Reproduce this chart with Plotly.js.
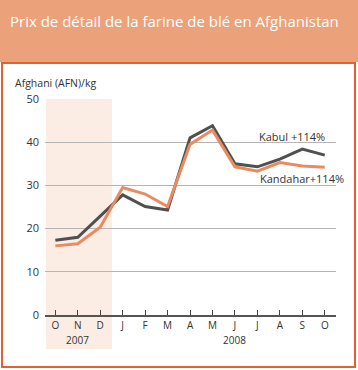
<!DOCTYPE html>
<html>
<head>
<meta charset="utf-8">
<script src="https://cdn.plot.ly/plotly-3.0.1.min.js"></script>
<style>
  html, body { margin:0; padding:0; background:#fff; }
  #wrap { position:relative; width:358px; height:370px; overflow:hidden; }
  #banner { position:absolute; left:0; top:0; width:358px; height:62px; background:#EBA17A; }
  #frame { position:absolute; left:1px; top:62px; width:351px; height:302px; border:2px solid #E2622F; }
  #chart { position:absolute; left:0; top:0; width:358px; height:370px; }
</style>
</head>
<body>
<div id="wrap">
  <div id="banner"></div>
  <div id="frame"></div>
  <div id="chart"></div>
</div>
<script>
const months = ["O","N","D","J","F","M","A","M","J","J","A","S","O"];
const kabul    = [17.3, 18.0, 22.9, 27.8, 25.1, 24.3, 41.0, 43.8, 35.0, 34.3, 36.1, 38.4, 37.0];
const kandahar = [16.0, 16.5, 20.3, 29.5, 28.0, 25.1, 39.5, 42.8, 34.3, 33.3, 35.3, 34.5, 34.2];
const years = [{label:"2007", at:1}, {label:"2008", at:8}];
const seriesNames = ["Kabul", "Kandahar"];
const labels = ["Kabul +114%", "Kandahar+114%"];

const idx = months.map((m,i)=>i);
const FONT = "Open Sans, Noto Sans, sans-serif";

const traces = [
  {x: idx, y: kabul, name: seriesNames[0], type:"scatter", mode:"lines",
   line:{color:"#505050", width:3}, hoverinfo:"skip"},
  {x: idx, y: kandahar, name: seriesNames[1], type:"scatter", mode:"lines",
   line:{color:"#E98B60", width:3}, hoverinfo:"skip"}
];

const annotations = [
  {text:"Afghani (AFN)/kg", xref:"paper", yref:"paper", x:-0.11, y:1.075,
   xanchor:"left", yanchor:"middle", showarrow:false, font:{family:FONT, size:10.5, color:"#333"}},
  {text:labels[0], xref:"x", yref:"y", x:12.1, y:41.4, xanchor:"right", yanchor:"middle",
   showarrow:false, font:{family:FONT, size:11, color:"#333"}},
  {text:labels[1], xref:"paper", yref:"y", x:1.035, y:31.6, xanchor:"right", yanchor:"middle",
   showarrow:false, font:{family:FONT, size:11, color:"#333"}}
];
years.forEach(yr => annotations.push({
  text: yr.label, xref:"x", yref:"paper", x: yr.at, y:-0.118, xanchor:"center", yanchor:"middle",
  showarrow:false, font:{family:FONT, size:10, color:"#333"}
}));

const layout = {
  width:358, height:370,
  margin:{l:45, r:22.4, t:99, b:55, pad:0},
  paper_bgcolor:"rgba(0,0,0,0)", plot_bgcolor:"rgba(0,0,0,0)",
  showlegend:false,
  title:{text:"Prix de détail de la farine de blé en Afghanistan", xref:"container", yref:"container",
         x:10/358, xanchor:"left", y:1-22/370, yanchor:"middle",
         font:{family:FONT, size:15, color:"#ffffff"}},
  xaxis:{range:[-0.46, 12.5], tickmode:"array", tickvals:idx, ticktext:months,
         ticks:"inside", ticklen:5, tickwidth:1, tickcolor:"#444",
         showline:true, linecolor:"#555", linewidth:2, showgrid:false, zeroline:false,
         tickfont:{family:FONT, size:10, color:"#333"}, fixedrange:true},
  yaxis:{range:[0,50], dtick:10, tick0:0, showgrid:true, gridcolor:"#B5B5B5", gridwidth:1,
         zeroline:false, showline:false, ticks:"", ticklabelstandoff:5,
         tickfont:{family:FONT, size:11, color:"#333"}, fixedrange:true},
  shapes:[{type:"rect", xref:"x", yref:"paper", x0:-0.415, x1:2.52, y0:-0.157, y1:1,
           fillcolor:"#FBEDE3", line:{width:0}, layer:"below"}],
  annotations: annotations
};

Plotly.newPlot("chart", traces, layout, {displayModeBar:false, staticPlot:true});
</script>
</body>
</html>
